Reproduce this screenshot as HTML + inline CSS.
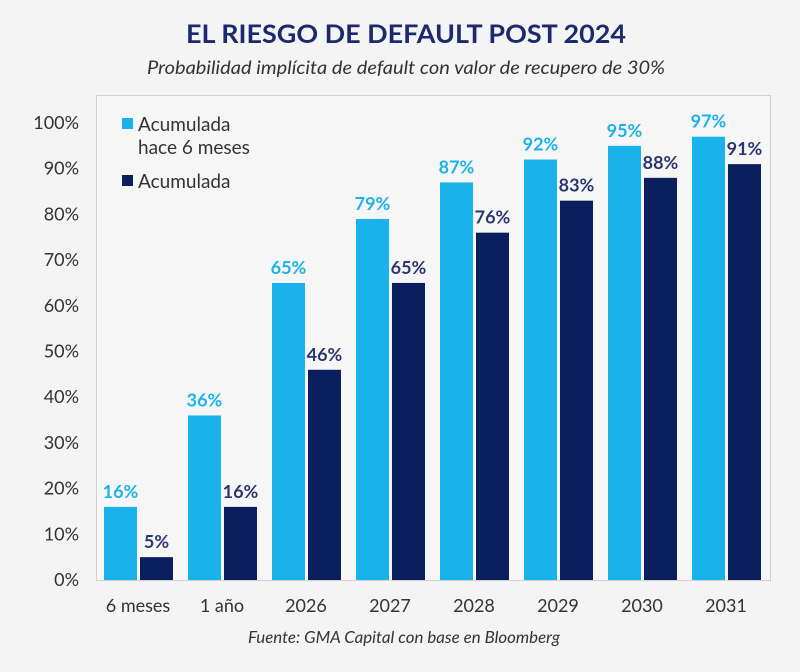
<!DOCTYPE html>
<html><head><meta charset="utf-8"><style>
body{margin:0;background:#f4f4f4;}
svg{display:block;font-family:"Lato","Liberation Sans",sans-serif;}
</style></head><body>
<svg id="c" width="800" height="672" viewBox="0 0 800 672">
<rect x="0" y="0" width="800" height="672" fill="#f4f4f4"/>
<text x="406" y="43" text-anchor="middle" font-size="26" font-weight="bold" fill="#1a2a6c" textLength="440" lengthAdjust="spacingAndGlyphs">EL RIESGO DE DEFAULT POST 2024</text>
<text x="406" y="74" text-anchor="middle" font-size="18" font-style="italic" fill="#333" textLength="518" lengthAdjust="spacingAndGlyphs">Probabilidad implícita de default con valor de recupero de 30%</text>
<rect x="96.5" y="95.5" width="674" height="485" fill="#f6f6f6" stroke="#cfcfcf"/>
<g id="yaxis"></g>
<g id="bars"></g>
<g id="xaxis"></g>
<g>
<rect x="122" y="118" width="11" height="11" fill="#1ab2ea"/>
<text x="138" y="131" font-size="19" fill="#333">Acumulada</text>
<text x="138" y="154" font-size="19" fill="#333">hace 6 meses</text>
<rect x="122" y="175" width="11" height="11" fill="#0b1f5e"/>
<text x="138" y="188" font-size="19" fill="#333">Acumulada</text>
</g>
<text x="404" y="643" text-anchor="middle" font-size="16" font-style="italic" fill="#333" textLength="312" lengthAdjust="spacingAndGlyphs">Fuente: GMA Capital con base en Bloomberg</text>
</svg>
<script>
const categories=["6 meses","1 año","2026","2027","2028","2029","2030","2031"];
const prevValues=[16,36,65,79,87,92,95,97];
const currValues=[5,16,46,65,76,83,88,91];
const yTicks=[0,10,20,30,40,50,60,70,80,90,100];
const NS="http://www.w3.org/2000/svg";
const y0=580,y100=123;
function y(v){return y0-(y0-y100)*v/100;}
function gx(i){return 104+i*84;}
const BW=33;
function mk(tag,attrs,parent,txt){const e=document.createElementNS(NS,tag);for(const k in attrs)e.setAttribute(k,attrs[k]);if(txt!==undefined)e.textContent=txt;parent.appendChild(e);return e;}
const ya=document.getElementById('yaxis'),ba=document.getElementById('bars'),xa=document.getElementById('xaxis');
yTicks.forEach(t=>{
  const el=mk('text',{x:79,y:y(t)+6,'text-anchor':'end','font-size':18,fill:'#333'},ya,t+'%');
  
  
});
categories.forEach((c,i)=>{
  const x=gx(i);
  const r1=mk('rect',{x:x,y:y(prevValues[i]),width:BW,height:y0-y(prevValues[i]),fill:'#1ab2ea'},ba);
  
  
  const r2=mk('rect',{x:x+36,y:y(currValues[i]),width:BW,height:y0-y(currValues[i]),fill:'#0b1f5e'},ba);
  
  
  const l1=mk('text',{x:x+BW/2,y:y(prevValues[i])-9,'text-anchor':'middle','font-size':18,'font-weight':'bold',fill:'#1ab2ea'},ba,prevValues[i]+'%');
  
  
  const l2=mk('text',{x:x+36+BW/2,y:y(currValues[i])-9,'text-anchor':'middle','font-size':18,'font-weight':'bold',fill:'#2a3570'},ba,currValues[i]+'%');
  
  
  const xl=mk('text',{x:x+34,y:612,'text-anchor':'middle','font-size':18,fill:'#333'},xa,c);
  
  
});
</script>
</body></html>
